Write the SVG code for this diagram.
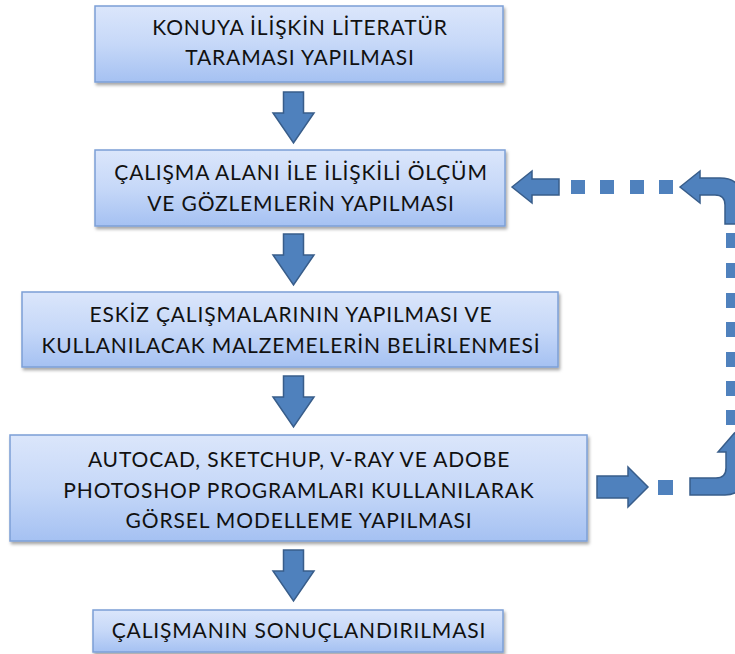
<svg xmlns="http://www.w3.org/2000/svg" width="735" height="654" viewBox="0 0 735 654">
<style>
.box{fill:url(#bg);stroke:#7c9fd6;stroke-width:1.5;filter:url(#sh)}
.t{font-family:Lato,"Open Sans","Liberation Sans",sans-serif;font-size:21px;letter-spacing:0.85px;fill:#111;text-anchor:middle}
.ar{fill:#4f81bd;stroke:#385d8a;stroke-width:1.5;stroke-linejoin:miter}
.dot{fill:#4f81bd}
</style>
<defs>
<linearGradient id="bg" x1="0" y1="0" x2="0" y2="1">
<stop offset="0" stop-color="#dbe6fb"/>
<stop offset="0.5" stop-color="#c6d8f8"/>
<stop offset="1" stop-color="#a5c1f2"/>
</linearGradient>
<filter id="sh" x="-5%" y="-10%" width="110%" height="125%">
<feDropShadow dx="1.5" dy="2.5" stdDeviation="1.5" flood-color="#000" flood-opacity="0.35"/>
</filter>
<path id="down" class="ar" d="M-10,0 H10 V21 H20.5 L0,51 L-20.5,21 H-10 Z"/>
</defs>

<g id="connectors">
<use href="#down" x="293.5" y="92"/>
<use href="#down" x="293.5" y="234"/>
<use href="#down" x="293.5" y="376"/>
<use href="#down" x="293.5" y="550"/>
<path class="ar" d="M512,187 L532,171 V179 H559 V195 H532 V203 Z"/>
<rect class="dot" x="571" y="180" width="14" height="14"/>
<rect class="dot" x="600" y="180" width="14" height="14"/>
<rect class="dot" x="630" y="180" width="14" height="14"/>
<rect class="dot" x="659" y="180" width="14" height="14"/>
<path class="ar" d="M680,187 L700,171 V178 H720 Q742,178 742,200 V224 H725 V205 Q725,195 715,195 H700 V203 Z"/>
<rect class="dot" x="726" y="233" width="16" height="15"/>
<rect class="dot" x="726" y="263" width="16" height="15"/>
<rect class="dot" x="726" y="293" width="16" height="15"/>
<rect class="dot" x="726" y="322" width="16" height="15"/>
<rect class="dot" x="726" y="352" width="16" height="15"/>
<rect class="dot" x="726" y="381" width="16" height="15"/>
<rect class="dot" x="726" y="410" width="16" height="15"/>
<path class="ar" d="M597,476 H628 V467 L648,487 L628,507 V498 H597 Z"/>
<rect class="dot" x="658" y="480" width="15" height="15"/>
<path class="ar" d="M690,478 H716 Q726,478 726,468 V452 H718 L734.5,433 L751,452 H743 V477 Q743,495 725,495 H690 Z"/>
</g>

<g id="node1">
<rect class="box" x="95" y="6" width="408" height="76"/>
<text class="t" x="300" y="35">KONUYA İLİŞKİN LİTERATÜR</text>
<text class="t" x="300" y="65">TARAMASI YAPILMASI</text>
</g>
<g id="node2">
<rect class="box" x="95" y="150" width="410" height="76"/>
<text class="t" x="301" y="180">ÇALIŞMA ALANI İLE İLİŞKİLİ ÖLÇÜM</text>
<text class="t" x="301" y="211">VE GÖZLEMLERİN YAPILMASI</text>
</g>
<g id="node3">
<rect class="box" x="22" y="292" width="536" height="75"/>
<text class="t" x="291" y="322">ESKİZ ÇALIŞMALARININ YAPILMASI VE</text>
<text class="t" x="291" y="353">KULLANILACAK MALZEMELERİN BELİRLENMESİ</text>
</g>
<g id="node4">
<rect class="box" x="10" y="435" width="577" height="106"/>
<text class="t" x="299" y="467">AUTOCAD, SKETCHUP, V-RAY VE ADOBE</text>
<text class="t" x="299" y="498">PHOTOSHOP PROGRAMLARI KULLANILARAK</text>
<text class="t" x="299" y="528">GÖRSEL MODELLEME YAPILMASI</text>
</g>
<g id="node5">
<rect class="box" x="93" y="610" width="410" height="42"/>
<text class="t" x="299" y="638">ÇALIŞMANIN SONUÇLANDIRILMASI</text>
</g>
</svg>
